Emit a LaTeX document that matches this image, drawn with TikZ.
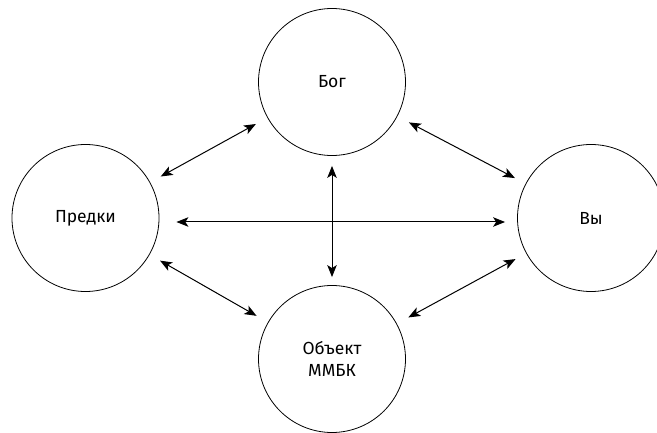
\documentclass[tikz,border=0pt]{standalone}
\usepackage{fontspec}
\setmainfont{Fira Sans}
\usetikzlibrary{arrows.meta}
\begin{document}
\begin{tikzpicture}[x=1pt, y=1pt,
		circnode/.style={draw, circle, line width=0.8pt, minimum size=147pt, inner sep=0pt, align=center, font=\fontsize{17.5}{22}\selectfont},
		link/.style={line width=1pt, {Stealth[length=12pt, width=9.5pt, inset=3pt]}-{Stealth[length=12pt, width=9.5pt, inset=3pt]}}]
			\useasboundingbox (0, 0) rectangle (657, 432);
			\begin{scope}
			\clip (0, 0) rectangle (657, 432);
			\node[circnode] at (332, 350) (bog) {Бог};
			\node[circnode] at (85.5, 214) (predki) {Предки};
			\node[circnode] at (591, 214) (vy) {Вы};
			\node[circnode] at (332, 73) (obekt) {Объект\\ММБК};
			\end{scope}

			\path
			(predki) edge[link, shorten <=12pt, shorten >=13pt] (bog)
			(bog) edge[link, shorten <=13pt, shorten >=12pt] (vy)
			([yshift=-4pt]predki.east) edge[link, shorten <=17pt, shorten >=12pt] ([yshift=-4pt]vy.west)
			(bog) edge[link, shorten <=10pt, shorten >=8pt] (obekt)
			(predki) edge[link, shorten <=12pt, shorten >=13pt] (obekt)
			(obekt) edge[link, shorten <=13pt, shorten >=12pt] (vy);
		\end{tikzpicture}
\end{document}
